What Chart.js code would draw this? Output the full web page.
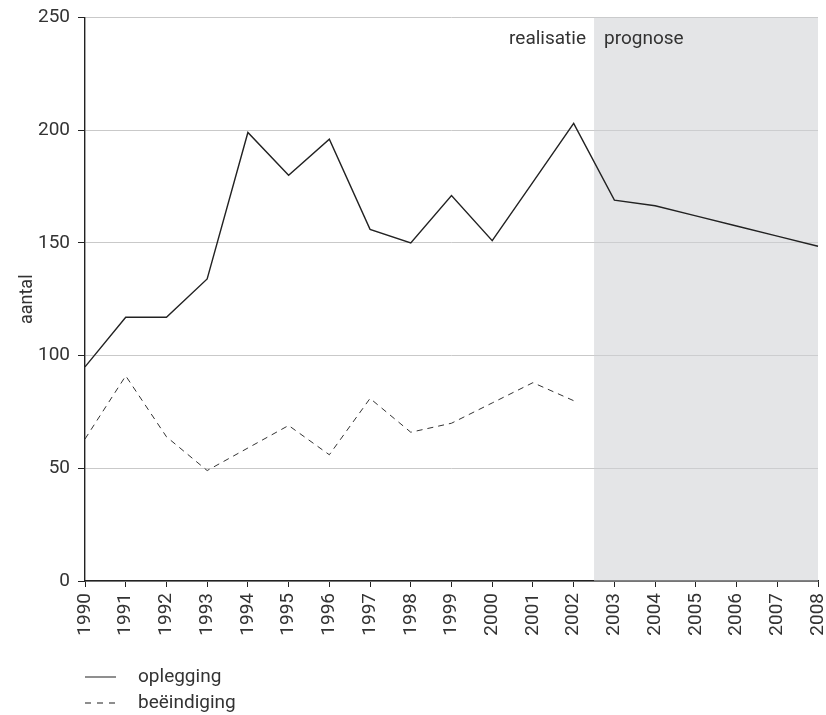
<!DOCTYPE html>
<html>
<head>
<meta charset="utf-8">
<script src="https://cdn.jsdelivr.net/npm/chart.js@4/dist/chart.umd.min.js"></script>
<style>
  body { margin: 0; background: #fff; }
  #wrap { width: 826px; height: 715px; }
</style>
</head>
<body>
<div id="wrap"><canvas id="chart" width="826" height="715"></canvas></div>
<script>
// Data
const years = ['1990', '1991', '1992', '1993', '1994', '1995', '1996', '1997', '1998', '1999',
    '2000', '2001', '2002', '2003', '2004', '2005', '2006', '2007', '2008'];
const oplegging = [95, 117, 117, 134, 199, 180, 196, 156, 150, 171, 151, 177, 203, 169, 166.5, 162, 157.5, 153, 148.5];
const beeindiging = [63, 91, 64, 49, 59, 69, 56, 81, 66, 70, 79, 88, 80, null, null, null, null, null, null];
const yTicks = [0, 50, 100, 150, 200, 250];
const prognoseStart = 12.5; // between 2002 and 2003

const textColor = '#333';
const fontFamily = 'Roboto, "Liberation Sans", sans-serif';

// Grey prognosis band + labels + custom legend
const extras = {
    id: 'extras',
    beforeDatasetsDraw(chart) {
        const { ctx, chartArea, scales } = chart;
        const x0 = scales.x.getPixelForValue(prognoseStart);
        ctx.save();
        ctx.fillStyle = 'rgba(205, 207, 212, 0.55)';
        ctx.fillRect(x0, chartArea.top, chartArea.right - x0, chartArea.bottom - chartArea.top);
        ctx.restore();
    },
    afterDraw(chart) {
        const { ctx, chartArea, scales } = chart;
        const x0 = scales.x.getPixelForValue(prognoseStart);
        ctx.save();
        ctx.fillStyle = textColor;
        ctx.font = '19px ' + fontFamily;
        ctx.textBaseline = 'middle';
        ctx.textAlign = 'right';
        ctx.fillText('realisatie', x0 - 8, chartArea.top + 22);
        ctx.textAlign = 'left';
        ctx.fillText('prognose', x0 + 10, chartArea.top + 22);

        // legend
        const items = [
            { label: 'oplegging', dash: [], y: 677 },
            { label: 'beëindiging', dash: [6, 6], y: 703 }
        ];
        items.forEach(it => {
            ctx.strokeStyle = '#444';
            ctx.lineWidth = 1.2;
            ctx.setLineDash(it.dash);
            ctx.beginPath();
            ctx.moveTo(85, it.y);
            ctx.lineTo(116, it.y);
            ctx.stroke();
            ctx.setLineDash([]);
            ctx.fillText(it.label, 138, it.y);
        });
        ctx.restore();
    }
};

const ctx = document.getElementById('chart').getContext('2d');
const chart = new Chart(ctx, {
    type: 'line',
    data: {
        labels: years,
        datasets: [{
            label: 'oplegging',
            data: oplegging,
            borderColor: '#222',
            borderWidth: 1.4,
            pointRadius: 0,
            tension: 0,
            fill: false
        }, {
            label: 'beëindiging',
            data: beeindiging,
            borderColor: '#333',
            borderWidth: 1,
            borderDash: [6, 5],
            pointRadius: 0,
            tension: 0,
            fill: false
        }]
    },
    options: {
        responsive: false,
        animation: false,
        layout: { padding: { top: 14, right: 8, left: 0, bottom: 0 } },
        plugins: {
            legend: { display: false },
            tooltip: { enabled: false }
        },
        scales: {
            x: {
                type: 'category',
                offset: false,
                grid: { drawOnChartArea: false, drawTicks: true, tickLength: 6, tickColor: '#222' },
                border: { color: '#222', width: 1.4 },
                ticks: {
                    autoSkip: false,
                    minRotation: 90,
                    maxRotation: 90,
                    padding: 6,
                    color: textColor,
                    font: { family: fontFamily, size: 19 }
                },
                afterFit(scale) {
                    scale.height = 134;
                    scale.paddingLeft = 0;
                    scale.paddingRight = 0;
                }
            },
            y: {
                min: 0,
                max: 250,
                afterBuildTicks(scale) { scale.ticks = yTicks.map(v => ({ value: v })); },
                grid: { color: '#c9c9c9', lineWidth: 1, tickLength: 7, tickColor: '#222' },
                border: { color: '#222', width: 1.4 },
                ticks: {
                    padding: 8,
                    color: textColor,
                    font: { family: fontFamily, size: 19, lineHeight: 1 }
                },
                title: {
                    display: true,
                    text: 'aantal',
                    color: textColor,
                    font: { family: fontFamily, size: 18 },
                    padding: { top: 17, bottom: 0 }
                },
                afterFit(scale) { scale.width = 85; }
            }
        }
    },
    plugins: [extras]
});
</script>
</body>
</html>
